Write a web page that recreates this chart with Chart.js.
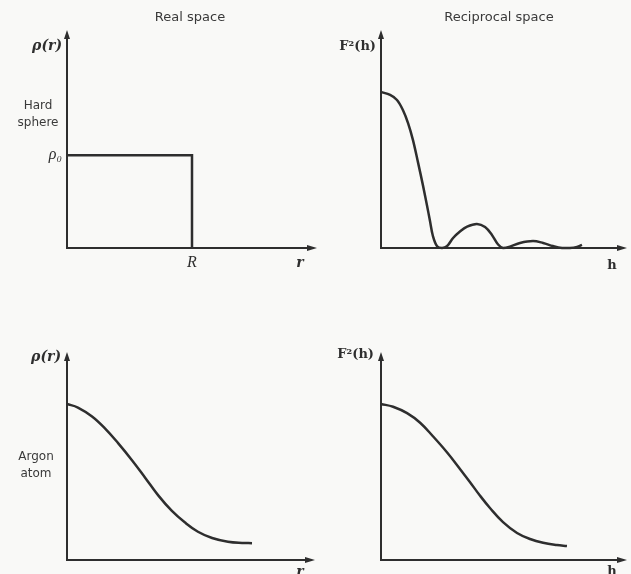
<!DOCTYPE html>
<html>
<head>
<meta charset="utf-8">
<script src="https://cdn.jsdelivr.net/npm/chart.js@4"></script>
<style>
  body { margin: 0; background: #f9f9f7; }
  #wrap { position: relative; width: 631px; height: 574px; overflow: hidden; }
  canvas { position: absolute; }
</style>
</head>
<body>
<div id="wrap">
  <canvas id="c1" width="320" height="287" style="left:0;top:0"></canvas>
  <canvas id="c2" width="311" height="287" style="left:320px;top:0"></canvas>
  <canvas id="c3" width="320" height="287" style="left:0;top:287px"></canvas>
  <canvas id="c4" width="311" height="287" style="left:320px;top:287px"></canvas>
</div>
<script>
// hard sphere, real space (R = 1, rho0 = 1)
const sphereR = [0, 1, 1];
const sphereRho = [1, 1, 0];

// hard sphere, reciprocal space
const sphereH = [0, 0.37, 0.65, 0.89, 1.10, 1.30, 1.50, 1.71, 1.87, 1.99, 2.11, 2.28, 2.48, 2.68, 2.93, 3.21, 3.50, 3.90, 4.23, 4.51, 4.76, 4.96, 5.24, 5.65, 6.18, 6.59, 6.99, 7.36, 7.68, 7.97, 8.17];
const sphereF2 = [7.16, 7.02, 6.79, 6.33, 5.73, 4.95, 3.95, 2.85, 1.95, 1.25, 0.55, 0.08, 0, 0.08, 0.46, 0.76, 0.98, 1.10, 0.96, 0.60, 0.16, 0, 0.06, 0.23, 0.32, 0.23, 0.09, 0, 0, 0.05, 0.14];

// argon atom, real space
const argonR = [0, 0.44, 1.01, 1.53, 2.06, 2.62, 3.15, 3.67, 4.23, 4.76, 5.28, 5.85, 6.49, 7.06, 7.46];
const argonRho = [7.50, 7.33, 6.90, 6.33, 5.62, 4.80, 3.96, 3.12, 2.36, 1.80, 1.36, 1.06, 0.88, 0.82, 0.81];

// argon atom, reciprocal space
const argonH = [0, 0.49, 1.06, 1.59, 2.11, 2.68, 3.21, 3.62, 4.02, 4.43, 4.96, 5.53, 6.06, 6.59, 7.15, 7.56];
const argonF2 = [7.50, 7.37, 7.06, 6.60, 5.95, 5.18, 4.38, 3.74, 3.10, 2.50, 1.82, 1.30, 1.01, 0.83, 0.72, 0.67];

const titles = ["Real space", "Reciprocal space"];
const rowLabels = [["Hard", "sphere"], ["Argon", "atom"]];
const sphereTickR = [{ value: 1, label: "R" }];
const sphereTickRho = [{ value: 1, label: "ρ₀" }];

const ink = "#2e2e2e";

const axesPlugin = {
  id: "axes",
  beforeDatasetsDraw(chart) {
    const ctx = chart.ctx;
    const a = chart.chartArea;
    ctx.save();
    ctx.strokeStyle = ink;
    ctx.fillStyle = ink;
    ctx.lineWidth = 2;
    ctx.beginPath();
    ctx.moveTo(a.left, a.top + 4);
    ctx.lineTo(a.left, a.bottom);
    ctx.lineTo(a.right - 4, a.bottom);
    ctx.stroke();
    // arrow heads
    ctx.beginPath();
    ctx.moveTo(a.left, a.top);
    ctx.lineTo(a.left - 3, a.top + 9);
    ctx.lineTo(a.left + 3, a.top + 9);
    ctx.closePath();
    ctx.fill();
    ctx.beginPath();
    ctx.moveTo(a.right, a.bottom);
    ctx.lineTo(a.right - 10, a.bottom - 3);
    ctx.lineTo(a.right - 10, a.bottom + 3);
    ctx.closePath();
    ctx.fill();
    ctx.restore();
  },
  afterDraw(chart, args, opts) {
    const ctx = chart.ctx;
    const xs = chart.scales.x;
    const ys = chart.scales.y;
    ctx.save();
    ctx.fillStyle = "#3a3a3a";
    ctx.textBaseline = "middle";
    if (opts.title) {
      ctx.font = "13px 'DejaVu Sans'";
      ctx.textAlign = "center";
      ctx.fillText(opts.title[0], opts.title[1], opts.title[2]);
    }
    if (opts.row) {
      ctx.font = "12px 'DejaVu Sans'";
      ctx.textAlign = "center";
      opts.row[0].forEach((t, i) => ctx.fillText(t, opts.row[1], opts.row[2] + i * 17));
    }
    ctx.fillStyle = ink;
    ctx.font = opts.labelFont;
    ctx.textAlign = "right";
    ctx.fillText(opts.yLabel[0], opts.yLabel[1], opts.yLabel[2]);
    ctx.textAlign = "center";
    ctx.fillText(opts.xLabel[0], opts.xLabel[1], opts.xLabel[2]);
    ctx.font = "italic 16px 'Liberation Serif'";
    (opts.xTicks || []).forEach(t => {
      ctx.fillText(t.label, xs.getPixelForValue(t.value), chart.chartArea.bottom + 15);
    });
    ctx.textAlign = "right";
    (opts.yTicks || []).forEach(t => {
      ctx.fillText(t.label, chart.chartArea.left - 5, ys.getPixelForValue(t.value));
    });
    ctx.restore();
  }
};

function makePanel(id, xs, ys, cfg) {
  return new Chart(document.getElementById(id), {
    type: "line",
    data: {
      datasets: [{
        data: xs.map((x, i) => ({ x: x, y: ys[i] })),
        borderColor: ink,
        borderWidth: 2.5,
        pointRadius: 0,
        tension: cfg.tension,
        clip: false
      }]
    },
    options: {
      responsive: false,
      animation: false,
      events: [],
      layout: { padding: cfg.padding },
      scales: {
        x: { type: "linear", display: false, min: 0, max: cfg.xMax },
        y: { type: "linear", display: false, min: 0, max: cfg.yMax }
      },
      plugins: {
        legend: { display: false },
        tooltip: { enabled: false },
        axes: cfg.labels
      }
    },
    plugins: [axesPlugin]
  });
}

const rhoFont = "italic bold 14px 'DejaVu Serif'";
const fFont = "bold 13px 'DejaVu Serif'";

makePanel("c1", sphereR, sphereRho, {
  xMax: 2.0, yMax: 2.35, tension: 0,
  padding: { left: 67, top: 30, right: 3, bottom: 39 },
  labels: {
    title: [titles[0], 190, 18],
    row: [rowLabels[0], 38, 106],
    labelFont: rhoFont,
    yLabel: ["ρ(r)", 62, 46],
    xLabel: ["r", 300, 263],
    xTicks: sphereTickR,
    yTicks: sphereTickRho
  }
});

makePanel("c2", sphereH, sphereF2, {
  xMax: 10, yMax: 10, tension: 0.35,
  padding: { left: 61, top: 30, right: 4, bottom: 39 },
  labels: {
    title: [titles[1], 179, 18],
    labelFont: fFont,
    yLabel: ["F²(h)", 56, 47],
    xLabel: ["h", 292, 266]
  }
});

makePanel("c3", argonR, argonRho, {
  xMax: 10, yMax: 10, tension: 0.4,
  padding: { left: 67, top: 65, right: 5, bottom: 14 },
  labels: {
    row: [rowLabels[1], 36, 170],
    labelFont: rhoFont,
    yLabel: ["ρ(r)", 61, 70],
    xLabel: ["r", 300, 285]
  }
});

makePanel("c4", argonH, argonF2, {
  xMax: 10, yMax: 10, tension: 0.4,
  padding: { left: 61, top: 65, right: 4, bottom: 14 },
  labels: {
    labelFont: fFont,
    yLabel: ["F²(h)", 54, 68],
    xLabel: ["h", 292, 285]
  }
});
</script>
</body>
</html>
